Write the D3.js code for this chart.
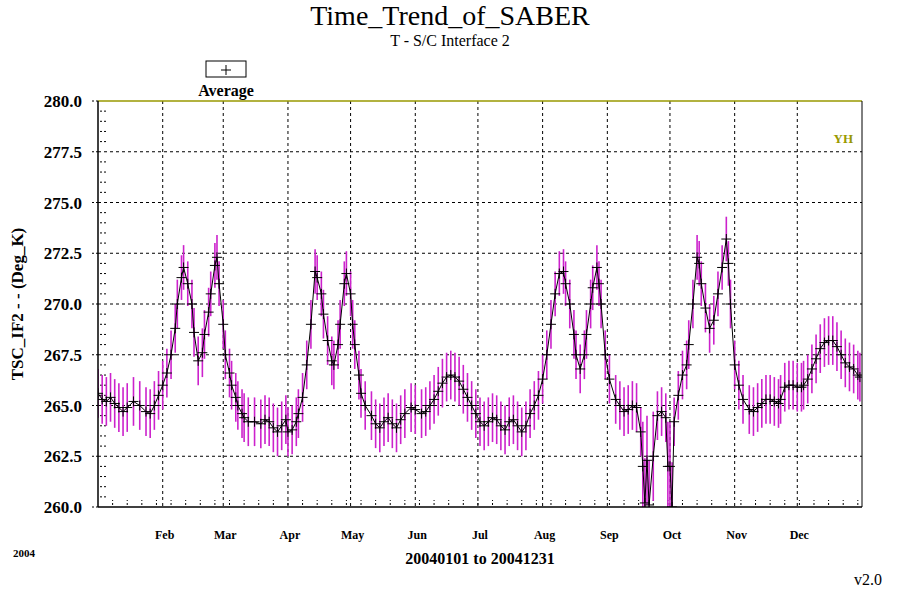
<!DOCTYPE html><html><head><meta charset="utf-8"><script src="https://cdn.jsdelivr.net/npm/d3@7"></script>
<style>body{margin:0;background:#fff}text{font-family:"Liberation Serif","DejaVu Serif",serif}</style></head><body><svg id="c" width="900" height="590"></svg>
<script>
const days=[
0,2,4,6,8,10,12,14,17,20,23,25,27,29,
31,33,35,37,38,40,41,43,45,46,48,50,51,53,54,56,57,58,
60,61,63,64,66,67,69,70,72,75,78,80,82,84,86,88,90,
91,93,95,96,98,100,102,104,105,107,108,110,112,113,115,116,118,119,
121,122,123,125,126,128,131,133,135,137,139,141,143,145,147,150,
152,155,157,159,161,163,165,167,169,171,173,175,177,179,
181,183,185,187,189,191,193,195,197,199,201,203,205,207,209,211,
213,215,217,219,221,223,224,226,228,229,231,233,234,236,237,239,240,241,243,
245,248,250,252,254,256,258,260,261,262,263,264,266,268,270,272,273,
274,275,276,278,280,282,283,285,287,288,289,291,293,295,297,299,301,302,303,
305,307,309,312,314,316,318,320,322,324,326,327,329,331,333,
335,337,338,340,342,344,346,348,350,352,354,356,358,360,362,364,365];
const values=[
265.6,265.3,265.2,265.4,265.1,264.9,264.7,264.9,265.2,265.0,264.7,264.6,265.0,265.5,
266.0,266.6,267.5,268.8,270.0,271.3,271.8,271.0,270.0,268.6,267.2,267.6,268.5,269.6,270.5,271.9,272.3,271.0,
269.0,267.5,266.6,266.0,265.4,265.0,264.6,264.4,264.2,264.2,264.1,264.3,264.2,263.9,263.7,264.0,264.3,
263.7,263.8,264.2,264.6,265.4,267.0,269.0,271.6,271.3,270.5,269.5,268.2,267.2,267.0,268.0,269.0,271.0,271.5,
270.5,269.0,268.0,266.5,265.6,265.0,264.5,264.1,263.9,264.2,264.4,264.1,263.9,264.3,264.6,264.9,
264.8,264.6,264.7,265.0,265.3,265.7,266.1,266.4,266.5,266.4,266.2,265.8,265.4,265.0,
264.6,264.2,264.0,264.2,264.4,264.3,264.0,263.8,264.2,264.3,264.0,263.7,264.0,264.6,265.0,265.5,
266.3,267.5,269.0,270.5,271.5,271.6,271.0,270.0,268.5,267.5,266.8,267.5,268.5,270.0,270.8,271.8,271.0,270.0,267.5,
266.3,265.3,265.0,264.7,264.8,265.0,264.9,263.7,262.0,260.2,262.3,260.1,262.5,264.5,264.7,264.4,262.0,
262.0,260.0,264.2,265.5,266.5,267.0,268.0,270.0,272.3,272.0,271.0,269.8,268.8,269.2,270.5,271.8,273.2,272.0,270.0,
267.0,266.0,265.3,264.8,264.7,264.9,265.1,265.3,265.3,265.2,265.1,265.3,265.9,266.0,266.0,
265.9,265.9,266.0,266.3,266.8,267.3,267.8,268.1,268.2,268.2,267.9,267.5,267.1,266.9,266.8,266.5,266.4];
const monthStarts=[31,60,91,121,152,182,213,244,274,305,335];
const monthLabels=["Feb","Mar","Apr","May","Jun","Jul","Aug","Sep","Oct","Nov","Dec"];
const yTicks=[260,262.5,265,267.5,270,272.5,275,277.5,280];
const svg=d3.select("#c");
const L=98,R=862,T=101,B=507;
const x=d3.scaleLinear().domain([0,366]).range([L,R]);
const y=d3.scaleLinear().domain([260,280]).range([B,T]);
const mag="#cc22cc";
const g=svg.append("g");
g.selectAll(".hg").data(yTicks.slice(1,-1)).join("line").attr("x1",L).attr("x2",R).attr("y1",d=>y(d)).attr("y2",d=>y(d)).attr("stroke","#000").attr("stroke-dasharray","3,3");
g.selectAll(".vg").data(monthStarts).join("line").attr("x1",d=>x(d)).attr("x2",d=>x(d)).attr("y1",T).attr("y2",B).attr("stroke","#000").attr("stroke-dasharray","3,3");
g.selectAll(".ym").data(d3.range(260.5,280,0.5).filter(v=>Math.abs(v/2.5-Math.round(v/2.5))>1e-6)).join("line").attr("x1",L+2).attr("x2",L+8).attr("y1",d=>y(d)).attr("y2",d=>y(d)).attr("stroke","#000").attr("stroke-dasharray","2,2");
g.selectAll(".xm").data(d3.range(7,366,7)).join("line").attr("x1",d=>x(d)).attr("x2",d=>x(d)).attr("y1",B-2).attr("y2",B-7).attr("stroke","#000").attr("stroke-dasharray","2,2");
svg.append("clipPath").attr("id","cp").append("rect").attr("x",L).attr("y",T).attr("width",R-L).attr("height",B-T);
const pts=days.map((d,i)=>({d,v:values[i]}));
const dg=svg.append("g").attr("clip-path","url(#cp)");
const err=v=>v<263?2.2:(v>270?1.1:1.2);
dg.selectAll(".eb").data(pts).join("line").attr("x1",p=>x(p.d)).attr("x2",p=>x(p.d)).attr("y1",p=>y(p.v-err(p.v))).attr("y2",p=>y(p.v+err(p.v))).attr("stroke",mag).attr("stroke-width",1.6);
dg.append("path").datum(pts).attr("d",d3.line().x(p=>x(p.d)).y(p=>y(p.v))).attr("fill","none").attr("stroke","#000").attr("stroke-width",1);
dg.selectAll(".pl").data(pts).join("path").attr("d",p=>`M${x(p.d)-5},${y(p.v)}h10M${x(p.d)},${y(p.v)-5}v10`).attr("stroke","#000").attr("stroke-width",1);
svg.append("line").attr("x1",L).attr("x2",R).attr("y1",T).attr("y2",T).attr("stroke","#999900").attr("stroke-width",1.5);
svg.append("line").attr("x1",L).attr("x2",L).attr("y1",T).attr("y2",B).attr("stroke","#000").attr("stroke-width",1.5);
svg.append("line").attr("x1",R).attr("x2",R).attr("y1",T).attr("y2",B).attr("stroke","#000");
svg.append("line").attr("x1",L).attr("x2",R).attr("y1",B).attr("y2",B).attr("stroke","#000").attr("stroke-width",1.5);
svg.selectAll(".yl").data(yTicks).join("text").attr("x",82).attr("y",d=>y(d)+6).attr("text-anchor","end").attr("font-size",17).attr("font-weight","bold").text(d=>d.toFixed(1));
svg.selectAll(".yt").data(yTicks).join("line").attr("x1",L-6).attr("x2",L).attr("y1",d=>y(d)).attr("y2",d=>y(d)).attr("stroke","#000").attr("stroke-dasharray","2,2");
svg.selectAll(".ml").data(monthStarts).join("text").attr("x",d=>x(d)+2).attr("y",539).attr("text-anchor","middle").attr("font-size",12).attr("font-weight","bold").text((d,i)=>monthLabels[i]);
svg.append("text").attr("x",450).attr("y",25).attr("text-anchor","middle").attr("font-size",28).text("Time_Trend_of_SABER");
svg.append("text").attr("x",450).attr("y",46).attr("text-anchor","middle").attr("font-size",16).text("T - S/C Interface 2");
svg.append("rect").attr("x",206).attr("y",61).attr("width",40).attr("height",16).attr("fill","none").attr("stroke","#000");
svg.append("path").attr("d","M221,70h10M226,65v10").attr("stroke","#000");
svg.append("text").attr("x",226).attr("y",96).attr("text-anchor","middle").attr("font-size",16).attr("font-weight","bold").text("Average");
svg.append("text").attr("x",853).attr("y",143).attr("text-anchor","end").attr("font-size",13).attr("font-weight","bold").attr("fill","#999900").text("YH");
svg.append("text").attr("transform","translate(23,304) rotate(-90)").attr("text-anchor","middle").attr("font-size",17).attr("font-weight","bold").text("TSC_IF2 - - (Deg_K)");
svg.append("text").attr("x",13).attr("y",557).attr("font-size",11).attr("font-weight","bold").text("2004");
svg.append("text").attr("x",480).attr("y",564).attr("text-anchor","middle").attr("font-size",16).attr("font-weight","bold").text("20040101 to 20041231");
svg.append("text").attr("x",882).attr("y",585).attr("text-anchor","end").attr("font-size",16).text("v2.0");
</script></body></html>
